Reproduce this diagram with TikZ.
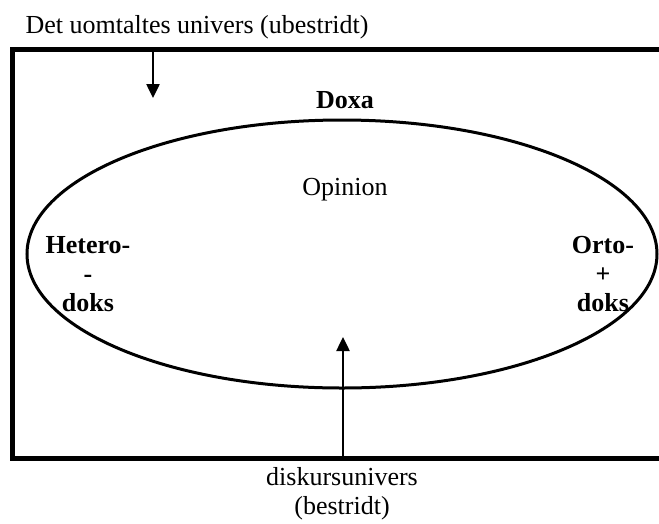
\documentclass[tikz,border=0pt]{standalone}
\usepackage{fontspec}
\setmainfont{Liberation Serif}
\usetikzlibrary{arrows.meta}

\begin{document}
\begin{tikzpicture}[x=1pt,y=-1pt,
	txt/.style = {font=\fontsize{26}{29}\selectfont, inner sep=0pt, align=center},
	bold/.style = {txt, font=\fontsize{26}{29}\selectfont\bfseries},
	pil/.style = {line width=2.5pt, -{Triangle[length=14pt,width=13pt]}}]
	\useasboundingbox (0,0) rectangle (659,523);
	% frame, open to the right
	\draw[line width=5pt] (659,49.5) -- (12.5,49.5) -- (12.5,458) -- (659,458);
	\draw[line width=3pt] (342,254) ellipse [x radius=315pt, y radius=134pt];
	% texts
	\node[txt] (title) at (197,27) {Det uomtaltes univers (ubestridt)};
	\node[bold] (doxa) at (345,100) {Doxa};
	\node[txt] (opinion) at (345,190) {Opinion};
	\node[bold] (hetero) at (88,274) {Hetero-\\-\\doks};
	\node[bold] (orto) at (603,274) {Orto-\\+\\doks};
	\node[txt] (diskurs) at (342,494) {diskursunivers\\(bestridt)};
	% arrows
	\coordinate (a1) at (153,47);
	\coordinate (a2) at (153,98);
	\coordinate (b1) at (343,460);
	\coordinate (b2) at (343,337);
	\draw[pil] (a1) -- (a2);
	\draw[pil] (b1) -- (b2);
\end{tikzpicture}
\end{document}
